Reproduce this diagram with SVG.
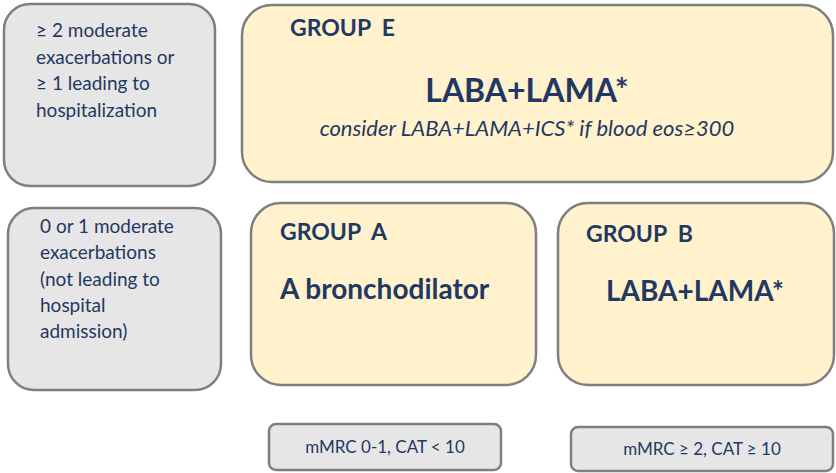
<svg xmlns="http://www.w3.org/2000/svg" width="836" height="473" viewBox="0 0 836 473">
<style>
.g{fill:#E7E6E6;stroke:#7F7F7F;stroke-width:2.5}
.y{fill:#FFF2CC;stroke:#7F7F7F;stroke-width:2.5}
text{font-family:Lato,"Open Sans","Liberation Sans",sans-serif;fill:#1F3864}
.t{font-size:19px}
.s{font-size:17px}
.h{font-size:23px;font-weight:bold;white-space:pre}
.m{font-size:28px;font-weight:bold}
.c{text-anchor:middle}
</style>
<rect width="836" height="473" fill="#FFFFFF"/>
<g id="row-high">
<rect class="g" x="4" y="4" width="211" height="182" rx="26"/>
<text class="t" x="36" y="37">≥ 2 moderate</text>
<text class="t" x="36" y="64">exacerbations or</text>
<text class="t" x="36" y="90">≥ 1 leading to</text>
<text class="t" x="36" y="117">hospitalization</text>
</g>
<g id="group-e">
<rect class="y" x="242" y="5" width="591" height="177" rx="30"/>
<text class="h" x="290" y="36" xml:space="preserve">GROUP  E</text>
<text class="c" x="527" y="102" style="font-size:32px;font-weight:bold">LABA+LAMA*</text>
<text class="c" x="527" y="136" style="font-style:italic;font-size:22px">consider LABA+LAMA+ICS* if blood eos≥300</text>
</g>
<g id="row-low">
<rect class="g" x="8" y="208" width="213" height="182" rx="26"/>
<text class="t" x="40" y="233">0 or 1 moderate</text>
<text class="t" x="40" y="259">exacerbations</text>
<text class="t" x="40" y="286">(not leading to</text>
<text class="t" x="40" y="312">hospital</text>
<text class="t" x="40" y="338">admission)</text>
</g>
<g id="group-a">
<rect class="y" x="251" y="203" width="285" height="182" rx="30"/>
<text class="h" x="280" y="240" xml:space="preserve">GROUP  A</text>
<text class="m" x="280" y="299">A bronchodilator</text>
</g>
<g id="group-b">
<rect class="y" x="558" y="203" width="276" height="182" rx="30"/>
<text class="h" x="586" y="242" xml:space="preserve">GROUP  B</text>
<text class="m c" x="695" y="301">LABA+LAMA*</text>
</g>
<g id="symptoms-low">
<rect class="g" x="269" y="424" width="232" height="46" rx="7"/>
<text class="s c" x="385" y="453">mMRC 0-1, CAT &lt; 10</text>
</g>
<g id="symptoms-high">
<rect class="g" x="571" y="427" width="262" height="44" rx="7"/>
<text class="s c" x="702" y="455">mMRC ≥ 2, CAT ≥ 10</text>
</g>
<g id="connectors"/>
</svg>
